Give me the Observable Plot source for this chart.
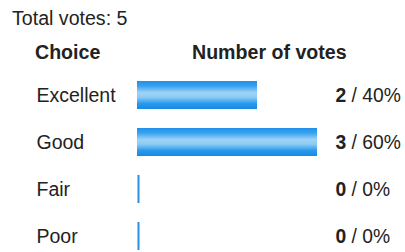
<!DOCTYPE html>
<html>
<head>
<meta charset="utf-8">
<script src="https://cdn.jsdelivr.net/npm/d3@7"></script>
<script src="https://cdn.jsdelivr.net/npm/@observablehq/plot@0.6"></script>
<style>
  html, body { margin: 0; padding: 0; background: #fff; }
  body { width: 405px; height: 252px; overflow: hidden; font-family: "Liberation Sans", Arial, sans-serif; color: #222; }
  #title { height: 36px; line-height: 36px; font-size: 19.6px; padding-left: 12px; white-space: nowrap; }
  #head { position: relative; height: 33px; line-height: 33px; font-size: 19.6px; font-weight: bold; white-space: nowrap; }
  #head span { position: absolute; top: 0; }
</style>
</head>
<body>
<div id="title"></div>
<div id="head"><span id="h1" style="left:35px"></span><span id="h2" style="left:192px"></span></div>
<div id="chart"></div>
<script>
const totalLabel = "Total votes: 5";
const headers = ["Choice", "Number of votes"];
const choices = ["Excellent", "Good", "Fair", "Poor"];
const votes = [2, 3, 0, 0];
const percents = [40, 60, 0, 0];

document.getElementById("title").textContent = totalLabel;
document.getElementById("h1").textContent = headers[0];
document.getElementById("h2").textContent = headers[1];

const data = choices.map((c, i) => ({choice: c, votes: votes[i], pct: percents[i]}));

const plot = Plot.plot({
  width: 405,
  height: 183,
  marginLeft: 137,
  marginRight: 88,
  marginTop: 11,
  marginBottom: 1,
  style: {fontFamily: "'Liberation Sans', Arial, sans-serif", fontSize: "19px", color: "#222", background: "#fff"},
  x: {domain: [0, 3], axis: null},
  y: {domain: choices, axis: null, paddingInner: 0.41, paddingOuter: 0},
  marks: [
    Plot.barX(data.filter(d => d.votes > 0), {x1: 0, x2: "votes", y: "choice", fill: "url(#barGrad)"}),
    Plot.tickX(data.filter(d => d.votes === 0), {x: 0, y: "choice", stroke: "#2a8fe0", strokeWidth: 2, dx: 1}),
    Plot.text(data, {y: "choice", text: "choice", frameAnchor: "left", textAnchor: "start", dx: -101, fill: "#222", fontSize: 19.5}),
    Plot.text(data, {y: "choice", text: d => `${d.votes} / ${d.pct}%`, frameAnchor: "right", textAnchor: "start", dx: 18, fill: "#222", fontSize: 19.3, className: "vals"})
  ]
});

// gradient for bars
const ns = "http://www.w3.org/2000/svg";
const defs = document.createElementNS(ns, "defs");
const grad = document.createElementNS(ns, "linearGradient");
grad.setAttribute("id", "barGrad");
grad.setAttribute("x1", "0"); grad.setAttribute("y1", "0");
grad.setAttribute("x2", "0"); grad.setAttribute("y2", "1");
[["0%", "#1e90ea"], ["18%", "#3aa2ee"], ["42%", "#9fd3f6"], ["58%", "#8ccbf4"], ["80%", "#2c9aec"], ["100%", "#158ae6"]].forEach(([o, c]) => {
  const s = document.createElementNS(ns, "stop");
  s.setAttribute("offset", o); s.setAttribute("stop-color", c);
  grad.appendChild(s);
});
defs.appendChild(grad);
plot.insertBefore(defs, plot.firstChild);

// bold vote counts
plot.querySelectorAll(".vals text").forEach(t => {
  const s = t.textContent;
  const idx = s.indexOf(" / ");
  t.textContent = "";
  const a = document.createElementNS(ns, "tspan");
  a.setAttribute("font-weight", "bold");
  a.textContent = s.slice(0, idx);
  const b = document.createElementNS(ns, "tspan");
  b.textContent = s.slice(idx);
  t.appendChild(a); t.appendChild(b);
});

document.getElementById("chart").appendChild(plot);
</script>
</body>
</html>
